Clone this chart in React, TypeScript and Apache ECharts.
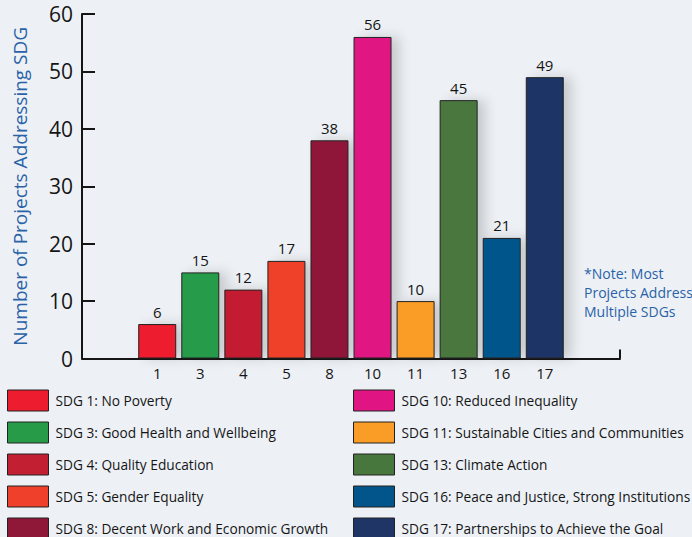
import React, { useEffect, useRef } from "react";
import * as echarts from "echarts";

const categories = ["1", "3", "4", "5", "8", "10", "11", "13", "16", "17"];
const values = [6, 15, 12, 17, 38, 56, 10, 45, 21, 49];
const names = [
  "SDG 1: No Poverty",
  "SDG 3: Good Health and Wellbeing",
  "SDG 4: Quality Education",
  "SDG 5: Gender Equality",
  "SDG 8: Decent Work and Economic Growth",
  "SDG 10: Reduced Inequality",
  "SDG 11: Sustainable Cities and Communities",
  "SDG 13: Climate Action",
  "SDG 16: Peace and Justice, Strong Institutions",
  "SDG 17: Partnerships to Achieve the Goal",
];
const colors = [
  "#ed1c2e",
  "#279b48",
  "#c31f33",
  "#ef402b",
  "#8f1838",
  "#e01483",
  "#f99d26",
  "#48773e",
  "#02558b",
  "#1f3566",
];
const yMin = 0;
const yMax = 60;
const yInterval = 10;
const noteLines = ["*Note: Most", "Projects Address", "Multiple SDGs"];

const FONT = "'Open Sans', sans-serif";
const BLUE = "#2a62a8";
const INK = "#151515";

export default function App() {
  const ref = useRef<HTMLDivElement>(null);
  useEffect(() => {
    if (!ref.current) return;
    const chart = echarts.init(ref.current, undefined, { renderer: "svg" });
    const series = names.map((name, i) => ({
      type: "bar",
      name,
      stack: "all",
      xAxisIndex: 0,
      yAxisIndex: 0,
      barWidth: 38,
      data: values.map((v, j) => (j === i ? v : "-")),
      itemStyle: {
        color: colors[i],
        borderColor: "#222",
        borderWidth: 1,
        shadowBlur: 12,
        shadowColor: "rgba(0,0,0,0.16)",
        shadowOffsetX: 8,
      },
      label: {
        show: true,
        position: "top",
        distance: 5,
        fontSize: 15,
        fontFamily: FONT,
        color: INK,
      },
    }));
    const legendBase = {
      orient: "horizontal",
      top: 389.5,
      width: 340,
      padding: 0,
      itemWidth: 41,
      itemHeight: 21,
      itemGap: 10,
      icon: "rect",
      selectedMode: false,
      itemStyle: { borderColor: "#222", borderWidth: 1 },
      textStyle: { fontSize: 13.7, fontFamily: FONT, color: INK, padding: [0, 0, 0, 2] },
    };
    chart.setOption({
      animation: false,
      backgroundColor: "#edf1f5",
      grid: [
        { left: 135.7, right: 125.7, top: 14, bottom: 178.5, outerBoundsMode: "none", containLabel: false },
        { left: 82, right: 72, top: 14, bottom: 178.5, outerBoundsMode: "none", containLabel: false },
      ],
      legend: [
        { ...legendBase, left: 7, data: names.slice(0, 5) },
        { ...legendBase, left: 353, data: names.slice(5) },
      ],
      xAxis: [
        {
          type: "category",
          gridIndex: 0,
          data: categories,
          axisLine: { show: false },
          axisTick: { show: false },
          axisLabel: { fontSize: 15, fontFamily: FONT, color: INK, margin: 7 },
        },
        {
          type: "value",
          gridIndex: 1,
          min: 0,
          max: 1,
          interval: 1,
          axisLine: { show: true, lineStyle: { color: INK, width: 2 } },
          axisTick: { show: true, inside: true, length: 9, lineStyle: { color: INK, width: 2 } },
          axisLabel: { show: false },
          splitLine: { show: false },
        },
      ],
      yAxis: [
        {
          type: "value",
          gridIndex: 0,
          min: yMin,
          max: yMax,
          interval: yInterval,
          offset: 53.7,
          name: "Number of Projects Addressing SDG",
          nameLocation: "middle",
          nameGap: 53,
          nameTextStyle: { fontSize: 19, fontFamily: FONT, color: BLUE },
          axisLine: { show: true, lineStyle: { color: INK, width: 2 } },
          axisTick: { show: true, inside: true, length: 13, lineStyle: { color: INK, width: 2 } },
          axisLabel: { fontSize: 21, fontFamily: FONT, color: INK, margin: 9 },
          splitLine: { show: false },
        },
        {
          type: "value",
          gridIndex: 1,
          show: false,
          min: 0,
          max: 1,
        },
      ],
      graphic: [
        {
          type: "text",
          left: 584,
          top: 264,
          style: {
            text: noteLines.join("\n"),
            fontSize: 14,
            lineHeight: 19,
            fontFamily: FONT,
            fill: BLUE,
          },
        },
      ],
      series,
    });
    return () => chart.dispose();
  }, []);
  return (
    <div
      ref={ref}
      style={{ position: "absolute", left: 0, top: 0, width: 692, height: 537 }}
    />
  );
}
